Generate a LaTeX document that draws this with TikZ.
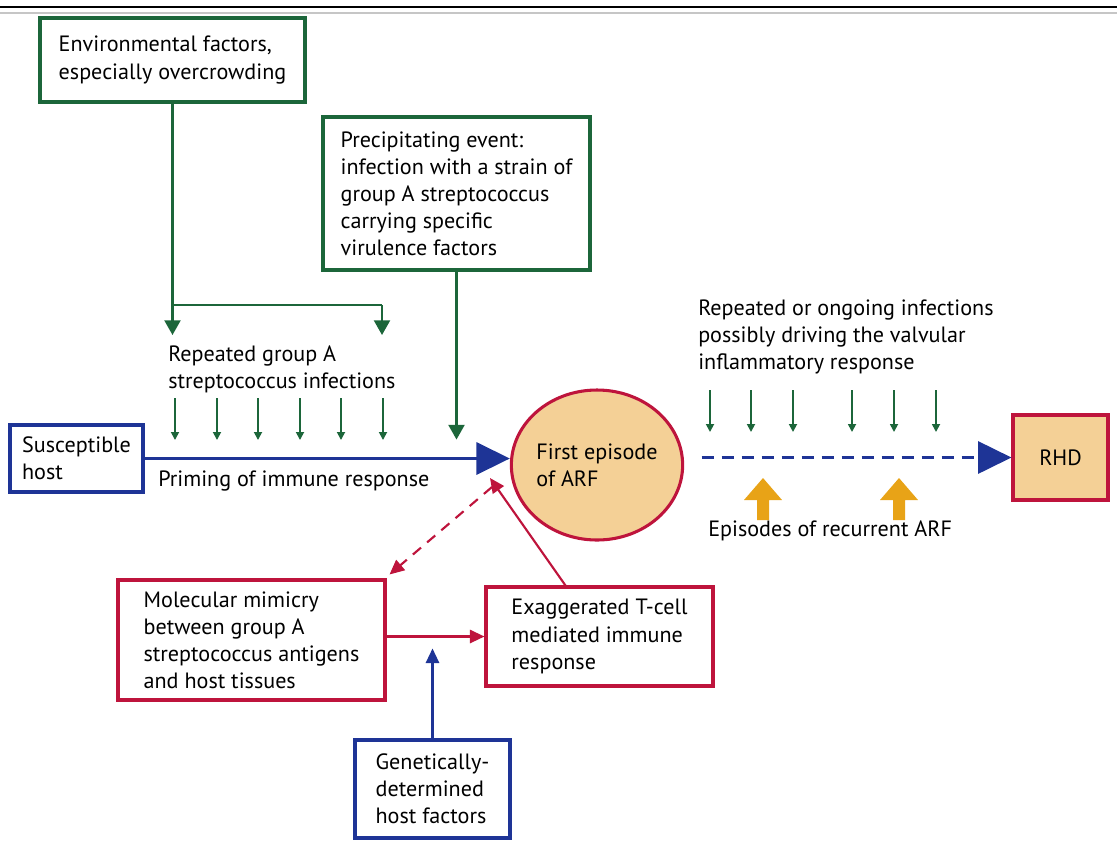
\documentclass[tikz,border=0pt]{standalone}
\usepackage{fontspec}
\setmainfont{PT Sans}
\usepackage{tikz}
\usetikzlibrary{shapes.geometric, arrows.meta}
\definecolor{dgreen}{RGB}{28,102,58}
\definecolor{dblue}{RGB}{30,52,150}
\definecolor{dred}{RGB}{190,20,60}
\definecolor{tan}{RGB}{244,208,150}
\definecolor{amber}{RGB}{232,163,23}
\tikzstyle{box} = [draw,line width=2.3pt,align=left,inner sep=0pt,font=\fontsize{16.6pt}{20.3pt}\selectfont]
\tikzstyle{lbl} = [align=left,inner sep=0pt,anchor=west,font=\fontsize{16.6pt}{20.3pt}\selectfont]
\tikzstyle{small} = [dgreen,line width=1.3pt,-{Triangle[length=6pt,width=6pt]}]
\tikzstyle{medium} = [dgreen,line width=1.6pt,-{Triangle[length=11pt,width=12pt]}]
\tikzstyle{big} = [dblue,line width=2.2pt,-{Triangle[length=25pt,width=24pt]}]

\begin{document}
\begin{tikzpicture}[x=0.75pt,y=-0.75pt]
            \useasboundingbox (0,0) rectangle (1117,844);
            % top rules
            \draw[line width=2.2pt] (0,7) -- (1117,7);
            \draw[gray!45,line width=2pt] (0,13) -- (1117,13);
            % boxes
            \node[box,dgreen,text=black,minimum width=198.75pt,minimum height=63pt] (env) at (172.5,60) {Environmental factors,\\especially overcrowding};
            \node[box,dgreen,text=black,minimum width=200.25pt,minimum height=114.75pt] (precip) at (456.5,193.5) {Precipitating event:\\infection with a strain of\\group A streptococcus\\carrying specific\\virulence factors};
            \node[box,dblue,text=black,minimum width=99.75pt,minimum height=50.25pt] (host) at (76.5,458.5) {Susceptible\\host};
            \node[draw=dred,fill=tan,ellipse,line width=2.3pt,inner sep=0pt,minimum width=123.75pt,minimum height=112.5pt,align=left,font=\fontsize{16.6pt}{20.3pt}\selectfont] (arf) at (597,465) {First episode\\of ARF};
            \node[box,dred,fill=tan,text=black,minimum width=71.25pt,minimum height=63.75pt] (rhd) at (1060.5,457.5) {RHD};
            \node[box,dred,text=black,minimum width=200.25pt,minimum height=90pt] (mimic) at (251.5,640) {Molecular mimicry\\between group A\\streptococcus antigens\\and host tissues};
            \node[box,dred,text=black,minimum width=170.25pt,minimum height=74.25pt] (tcell) at (599.5,636.5) {Exaggerated T-cell\\mediated immune\\response};
            \node[box,dblue,text=black,minimum width=116.25pt,minimum height=73.5pt] (genes) at (432.5,789) {Genetically-\\determined\\host factors};
            % labels
            \node[lbl] (rep) at (168,369.5) {Repeated group A\\streptococcus infections};
            \node[lbl] (prime) at (158,481) {Priming of immune response};
            \node[lbl] (ongoing) at (698,337) {Repeated or ongoing infections\\possibly driving the valvular\\inflammatory response};
            \node[lbl] (recur) at (708,531) {Episodes of recurrent ARF};
            % environmental factors split
            \coordinate (split) at (env.south |- 0,305);
            \coordinate (splitr) at (382,305);
            \draw[dgreen,line width=1.6pt] (env.south) -- (split) -- (splitr);
            \draw[medium] (split) -- ++(0,30);
            \draw[medium] (splitr) -- ++(0,30);
            \draw[medium] (precip.south) -- ++(0,168);
            % repeated infections
            \foreach \x in {175,217,258,300,341,383}
                \draw[small] (\x,398) -- (\x,440);
            \foreach \x in {710,751,793,852,894,936}
                \draw[small] (\x,390) -- (\x,432);
            % main axis
            \draw[big] (host.east) -- (host.east -| arf.west);
            \draw[big,dashed,dash pattern=on 9pt off 6pt] ([xshift=13pt]arf.east |- rhd.west) -- (rhd.west);
            % recurrent episodes
            \foreach \x in {763,899}
                \fill[amber] (\x-6,520) -- (\x-6,500) -- (\x-19,500) -- (\x,478) -- (\x+19,500) -- (\x+6,500) -- (\x+6,520) -- cycle;
            % immune response
            \coordinate (nearaxis) at (492,487);
            \coordinate (tip) at (490,478);
            \draw[dred,line width=1.6pt,dash pattern=on 8pt off 6pt,-{Triangle[length=11pt,width=10pt]}] (nearaxis) -- ([shift={(3,-4)}]mimic.north east);
            \draw[dred,line width=1.6pt,-{Triangle[length=11pt,width=10pt]}] ([xshift=60.75pt]tcell.north west) -- (tip);
            \draw[dred,line width=1.6pt,-{Triangle[length=11pt,width=10pt]}] (tcell.west -| mimic.east) -- (tcell.west);
            \draw[dblue,line width=1.6pt,-{Triangle[length=11pt,width=10pt]}] (genes.north) -- ++(0,-90);
        \end{tikzpicture}
\end{document}
